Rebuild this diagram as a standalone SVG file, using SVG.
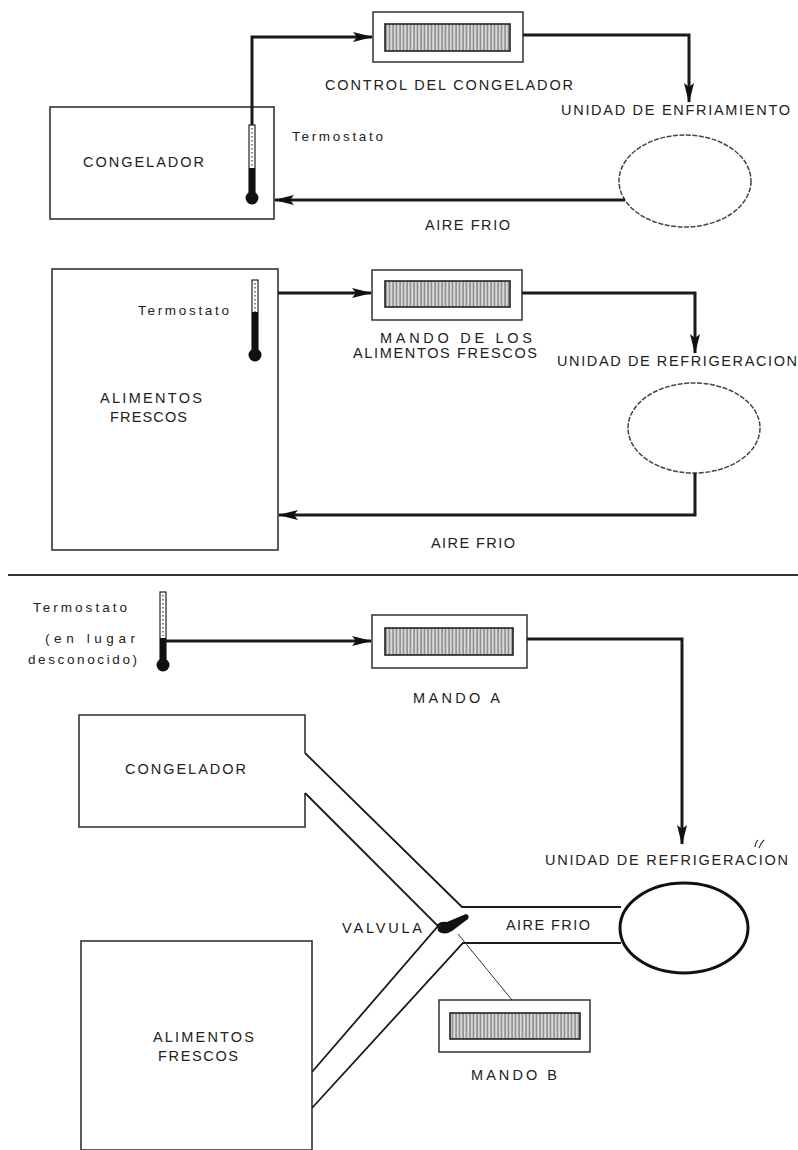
<svg xmlns="http://www.w3.org/2000/svg" width="798" height="1150" viewBox="0 0 798 1150">
<style>
.bg{fill:#fff}
.box{fill:none;stroke:#333;stroke-width:1.6}
.ctl{fill:#fff;stroke:#333;stroke-width:1.5}
.hatch{fill:url(#hp);stroke:#222;stroke-width:1.6}
.conn{fill:none;stroke:#1a1a1a;stroke-width:3;marker-end:url(#ah)}
.duct{fill:none;stroke:#1a1a1a;stroke-width:1.8}
.thin{fill:none;stroke:#333;stroke-width:1}
.ell{fill:none;stroke:#444;stroke-width:1.5;stroke-dasharray:5 1.5}
.ellb{fill:none;stroke:#111;stroke-width:3}
.t{font-family:"Liberation Sans",Arial,sans-serif;font-size:14.5px;fill:#222}
.s{font-family:"Liberation Sans",Arial,sans-serif;font-size:13.5px;fill:#222}
.tube{fill:#fff;stroke:#222;stroke-width:1.2}
.tick{stroke:#333;stroke-width:1.2;stroke-dasharray:1.5 2.5}
.blk{fill:#111}
</style>
<defs>
<pattern id="hp" width="3.5" height="10" patternUnits="userSpaceOnUse">
<rect width="3.5" height="10" fill="#d8d8d8"/>
<line x1="1" y1="0" x2="1" y2="10" stroke="#555" stroke-width="0.9"/>
</pattern>
<marker id="ah" markerWidth="20" markerHeight="10" refX="19" refY="5" orient="auto" markerUnits="userSpaceOnUse">
<path d="M0,0 L20,5 L0,10 L4,5 z" fill="#111"/>
</marker>
</defs>
<rect class="bg" x="0" y="0" width="798" height="1150"/>

<!-- Section 1 -->
<g id="congelador1">
<rect class="box" x="50" y="107" width="224" height="112"/>
<text class="t" x="83" y="167" textLength="121">CONGELADOR</text>
</g>
<g id="termostato1">
<rect class="tube" x="249" y="125" width="6" height="70"/>
<line class="tick" x1="252" y1="128" x2="252" y2="168"/>
<rect class="blk" x="249" y="168" width="6" height="27"/>
<circle class="blk" cx="252" cy="198" r="6.5"/>
<text class="s" x="292" y="141" textLength="91">Termostato</text>
</g>
<g id="control1">
<rect class="ctl" x="373" y="12" width="150" height="50"/>
<rect class="hatch" x="385" y="24" width="125" height="27"/>
<text class="t" x="325" y="90" textLength="248">CONTROL DEL CONGELADOR</text>
</g>
<g id="unidad1">
<ellipse class="ell" cx="685" cy="181" rx="66" ry="46"/>
<text class="t" x="561" y="115" textLength="229">UNIDAD DE ENFRIAMIENTO</text>
</g>
<text class="t" x="425" y="230" textLength="85">AIRE FRIO</text>

<!-- Section 2 -->
<g id="alimentos2">
<rect class="box" x="52" y="269" width="226" height="281"/>
<text class="t" x="100" y="403" textLength="102">ALIMENTOS</text>
<text class="t" x="110" y="422" textLength="77">FRESCOS</text>
</g>
<g id="termostato2">
<rect class="tube" x="252" y="280" width="6" height="70"/>
<line class="tick" x1="255" y1="283" x2="255" y2="312"/>
<rect class="blk" x="252" y="312" width="6" height="38"/>
<circle class="blk" cx="255" cy="355" r="6.5"/>
<text class="s" x="138" y="315" textLength="91">Termostato</text>
</g>
<g id="control2">
<rect class="ctl" x="372" y="270" width="150" height="50"/>
<rect class="hatch" x="385" y="281" width="125" height="26"/>
<text class="t" x="380" y="343" textLength="152">MANDO DE LOS</text>
<text class="t" x="353" y="358" textLength="184">ALIMENTOS FRESCOS</text>
</g>
<g id="unidad2">
<ellipse class="ell" cx="694" cy="428" rx="66" ry="45"/>
<text class="t" x="557" y="366" textLength="240">UNIDAD DE REFRIGERACION</text>
</g>
<text class="t" x="431" y="548" textLength="84">AIRE FRIO</text>

<line x1="8" y1="575" x2="798" y2="575" stroke="#333" stroke-width="2"/>

<!-- Section 3 -->
<g id="termostato3">
<rect class="tube" x="160" y="592" width="6" height="68"/>
<line class="tick" x1="163" y1="595" x2="163" y2="636"/>
<rect class="blk" x="160" y="638" width="6" height="22"/>
<circle class="blk" cx="163" cy="665" r="6.5"/>
<text class="s" x="33" y="612" textLength="94">Termostato</text>
<text class="s" x="45" y="643" textLength="90">(en lugar</text>
<text class="s" x="28" y="664" textLength="109">desconocido)</text>
</g>
<g id="mandoA">
<rect class="ctl" x="372" y="615" width="155" height="53"/>
<rect class="hatch" x="385" y="628" width="128" height="27"/>
<text class="t" x="413" y="703" textLength="87">MANDO A</text>
</g>
<g id="congelador3">
<path class="box" d="M305,753 V715 H79 V827 H305 V793"/>
<text class="t" x="125" y="774" textLength="121">CONGELADOR</text>
</g>
<g id="alimentos3">
<rect class="box" x="81" y="941" width="231" height="209"/>
<text class="t" x="153" y="1042" textLength="101">ALIMENTOS</text>
<text class="t" x="158" y="1061" textLength="80">FRESCOS</text>
</g>
<g id="unidad3">
<ellipse class="ellb" cx="684" cy="928" rx="64" ry="45"/>
<text class="t" x="545" y="865" textLength="243">UNIDAD DE REFRIGERACION</text>
<path d="M755,847 q1,-6 3,-7 M759,848 q2,-5 5,-8" fill="none" stroke="#333" stroke-width="1.2"/>
</g>
<g id="ductos">
<path class="duct" d="M305,753 L462,907 H621"/>
<path class="duct" d="M305,793 L438,926 L312,1072"/>
<path class="duct" d="M312,1108 L463,943 H621"/>
<text class="t" x="506" y="930" textLength="84">AIRE FRIO</text>
</g>
<g id="valvula">
<path d="M437,925 Q440,921 447,922 L466,914 Q470,915 468,919 L452,931 Q444,936 438,931 Z" fill="#111"/>
<text class="t" x="342" y="933" textLength="80">VALVULA</text>
</g>
<g id="mandoB">
<rect class="ctl" x="439" y="1000" width="151" height="52"/>
<rect class="hatch" x="450" y="1013" width="130" height="26"/>
<text class="t" x="471" y="1080" textLength="86">MANDO B</text>
</g>

<g id="connectors">
<path class="conn" d="M252,125 V37 H372"/>
<path class="conn" d="M523,35 H689 V102"/>
<path class="conn" d="M625,200 H275"/>
<path class="conn" d="M278,293 H371"/>
<path class="conn" d="M522,293 H695 V353"/>
<path class="conn" d="M695,473 V515 H279"/>
<path class="conn" d="M166,641 H371"/>
<path class="conn" d="M527,639 H682 V844"/>
<path class="thin" d="M458,934 L512,1000"/>
</g>
</svg>
